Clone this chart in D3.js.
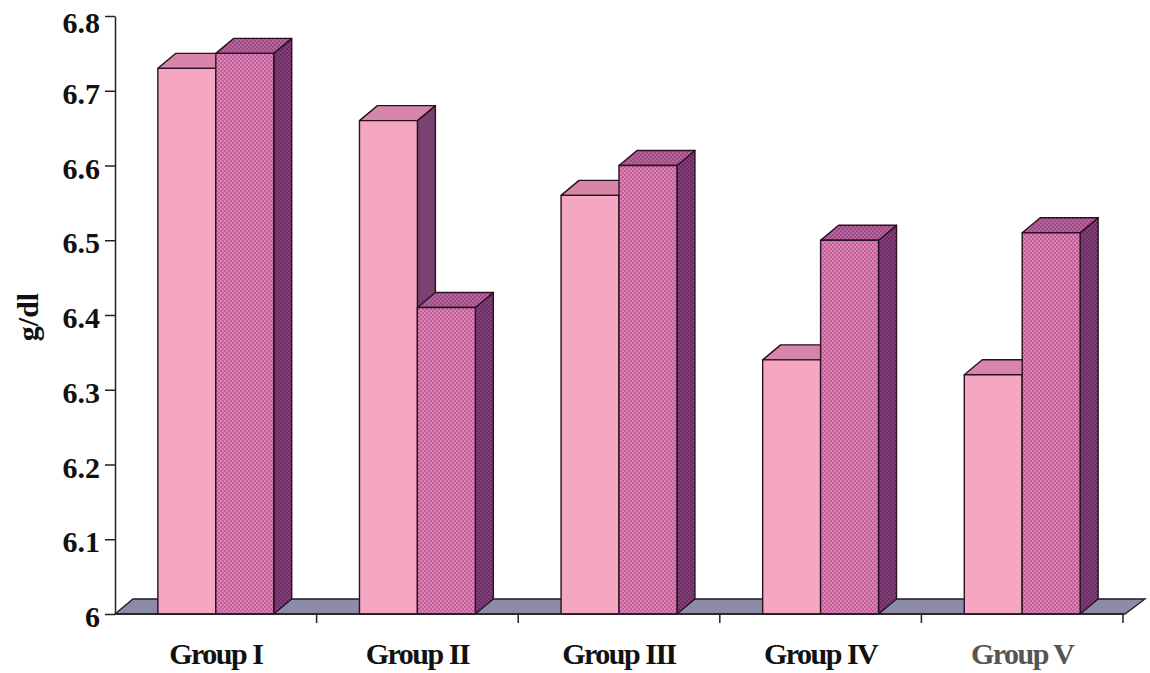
<!DOCTYPE html>
<html>
<head>
<meta charset="utf-8">
<script src="https://cdn.jsdelivr.net/npm/d3@7"></script>
<style>
  body { margin: 0; background: #fff; }
  text { font-family: "Liberation Serif", "Times New Roman", serif; font-weight: bold; }
</style>
</head>
<body>
<script>
// valeurs (g/dl)
var groups = ["Group I", "Group II", "Group III", "Group IV", "Group V"];
var seriesNames = ["pink", "purple"];
var pinkValues = [6.73, 6.66, 6.56, 6.34, 6.32];
var purpleValues = [6.75, 6.41, 6.60, 6.50, 6.51];
var yTicks = [6, 6.1, 6.2, 6.3, 6.4, 6.5, 6.6, 6.7, 6.8];

var width = 1150, height = 673;
var depth = { dx: 18, dy: -15 };

var svg = d3.select("body").append("svg")
  .attr("width", width)
  .attr("height", height);

// motifs pointillés pour la deuxième série
var defs = svg.append("defs");
function dotPattern(id, base, dot) {
  var p = defs.append("pattern")
    .attr("id", id)
    .attr("width", 4).attr("height", 4)
    .attr("patternUnits", "userSpaceOnUse");
  p.append("rect").attr("width", 4).attr("height", 4).attr("fill", base);
  p.append("circle").attr("cx", 1).attr("cy", 1).attr("r", 0.9).attr("fill", dot);
  p.append("circle").attr("cx", 3).attr("cy", 3).attr("r", 0.9).attr("fill", dot);
}
dotPattern("dotFront", "#c25f98", "#e696c2");
dotPattern("dotTop", "#9e4a84", "#c373a8");
dotPattern("dotSide", "#6a2c62", "#8e4a84");

var colors = {
  pink: { front: "#f5a7c1", top: "#d786aa", side: "#7a4270" },
  purple: { front: "url(#dotFront)", top: "url(#dotTop)", side: "url(#dotSide)" }
};

// echelles
var y = d3.scaleLinear().domain([6, 6.8]).range([614, 16]);
var x = d3.scaleBand().domain(groups).range([115, 1123]);
var xInner = d3.scaleBand().domain(seriesNames).range([0, x.bandwidth()]).paddingOuter(0.74);

// sol
var x0 = x.range()[0], x1 = x.range()[1], yb = y(6);
svg.append("path")
  .attr("d", "M" + x0 + "," + yb + "L" + (x0 + depth.dx) + "," + (yb + depth.dy) +
    "L" + (x1 + depth.dx + 4) + "," + (yb + depth.dy) + "L" + (x1 + 2) + "," + yb + "Z")
  .attr("fill", "#8d8ca8")
  .attr("stroke", "#1e1a24")
  .attr("stroke-width", 1.3);

// barres 3D
var rows = groups.map(function(g, i) {
  return [{ g: g, s: "pink", v: pinkValues[i] }, { g: g, s: "purple", v: purpleValues[i] }];
});

var barGroup = svg.append("g");
rows.forEach(function(pair) {
  pair.forEach(function(d) {
    var left = x(d.g) + xInner(d.s);
    var right = left + xInner.bandwidth();
    var top = y(d.v);
    var c = colors[d.s];
    var g = barGroup.append("g")
      .attr("stroke", "#2a1022")
      .attr("stroke-width", 1.4)
      .attr("stroke-linejoin", "round");
    g.append("path")
      .attr("d", "M" + right + "," + top + "L" + (right + depth.dx) + "," + (top + depth.dy) +
        "L" + (right + depth.dx) + "," + (yb + depth.dy) + "L" + right + "," + yb + "Z")
      .attr("fill", c.side);
    g.append("path")
      .attr("d", "M" + left + "," + top + "L" + (left + depth.dx) + "," + (top + depth.dy) +
        "L" + (right + depth.dx) + "," + (top + depth.dy) + "L" + right + "," + top + "Z")
      .attr("fill", c.top);
    g.append("rect")
      .attr("x", left).attr("y", top)
      .attr("width", right - left).attr("height", yb - top)
      .attr("fill", c.front);
  });
});

// axe y
var yAxis = d3.axisLeft(y)
  .tickValues(yTicks)
  .tickSize(10)
  .tickSizeOuter(0)
  .tickPadding(5)
  .tickFormat(function(d) { return d === 6 ? "6" : d3.format(".1f")(d); });

var gy = svg.append("g")
  .attr("transform", "translate(" + x0 + ",0)")
  .call(yAxis);
gy.selectAll("path, line").attr("stroke", "#222").attr("stroke-width", 1.5);
gy.selectAll("text")
  .attr("font-size", 30)
  .attr("dy", function(d) { return d === 6.8 ? "0.55em" : "0.42em"; })
  .attr("fill", "#111")
  .attr("font-family", "Liberation Serif")
  .attr("font-weight", "bold");

// axe x
svg.append("line")
  .attr("x1", x0).attr("x2", x1).attr("y1", yb).attr("y2", yb)
  .attr("stroke", "#222").attr("stroke-width", 1.5);
svg.selectAll(".xtick")
  .data(groups.slice(1).map(function(g) { return x(g); }).concat([x1]))
  .enter().append("line")
  .attr("x1", function(d) { return d; }).attr("x2", function(d) { return d; })
  .attr("y1", yb).attr("y2", yb + 9)
  .attr("stroke", "#222").attr("stroke-width", 1.5);

svg.selectAll(".xlabel")
  .data(groups)
  .enter().append("text")
  .attr("x", function(d) { return x(d) + x.bandwidth() / 2; })
  .attr("y", 664)
  .attr("text-anchor", "middle")
  .attr("font-size", 30)
  .attr("letter-spacing", -1.5)
  .attr("fill", function(d, i) { return i === 4 ? "#555" : "#111"; })
  .text(function(d) { return d; });

// titre axe y
svg.append("text")
  .attr("transform", "translate(38,317) rotate(-90)")
  .attr("text-anchor", "middle")
  .attr("font-size", 30)
  .attr("fill", "#111")
  .text("g/dl");
</script>
</body>
</html>
